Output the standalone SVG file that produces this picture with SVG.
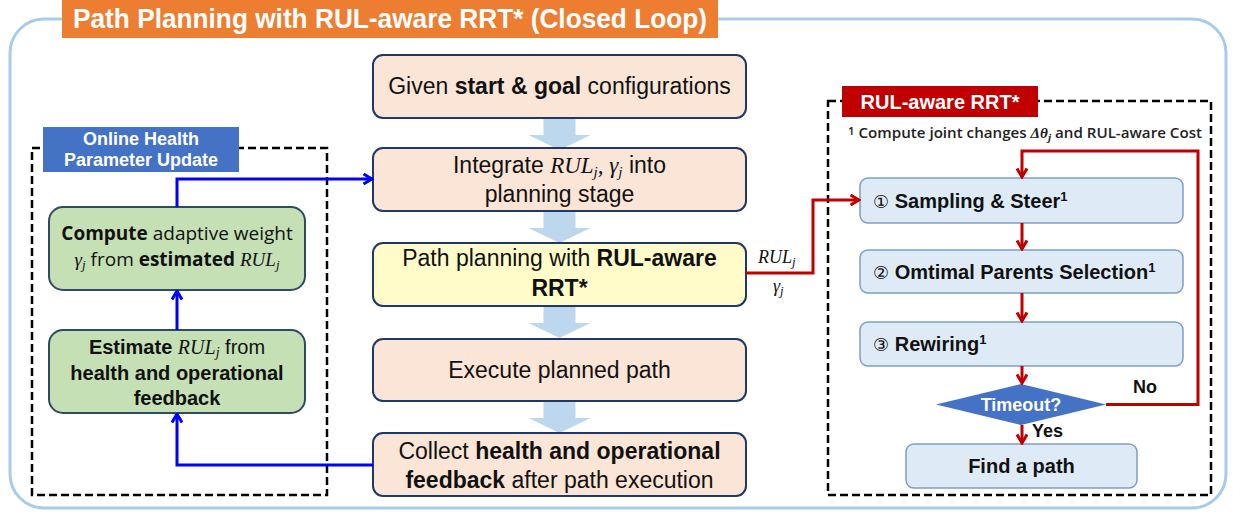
<svg xmlns="http://www.w3.org/2000/svg" width="1233" height="512" viewBox="0 0 1233 512">
<style>
.sans{font-family:"Liberation Sans",Arial,sans-serif}
.hum{font-family:"Open Sans","Noto Sans",sans-serif}
.math{font-family:"Liberation Serif","DejaVu Serif",serif;font-style:italic}
.b{font-weight:bold}
.w{fill:#fff}
.cbox{fill:#fbe5d6;stroke:#203864;stroke-width:2}
.ybox{fill:#fffcc9;stroke:#203864;stroke-width:2}
.gbox{fill:#c5e0b4;stroke:#2f4a63;stroke-width:2}
.rbox{fill:#deebf7;stroke:#7f9dc8;stroke-width:1.5}
.dash{fill:none;stroke:#000;stroke-width:2.5;stroke-dasharray:8 4}
.blue{fill:none;stroke:#0000ff;stroke-width:3;marker-end:url(#ab)}
.red{fill:none;stroke:#c00000;stroke-width:3;marker-end:url(#ar)}
.blk{fill:#bdd7ee}
</style>
<defs>
<marker id="ab" viewBox="0 0 12 12" refX="10.5" refY="6" markerWidth="12" markerHeight="12" markerUnits="userSpaceOnUse" orient="auto"><path d="M2,1 L10.5,6 L2,11" fill="none" stroke="#0000ff" stroke-width="3"/></marker>
<marker id="ar" viewBox="0 0 12 12" refX="10.5" refY="6" markerWidth="12" markerHeight="12" markerUnits="userSpaceOnUse" orient="auto"><path d="M2,1 L10.5,6 L2,11" fill="none" stroke="#c00000" stroke-width="3"/></marker>
<path id="blockarrow" d="M-16,0 H16 V17 H31 L0,32 L-31,17 H-16 Z"/>
</defs>

<!-- outer container -->
<rect x="10" y="19" width="1216" height="489" rx="34" fill="#fff" stroke="#a9cbea" stroke-width="3"/>
<g id="title">
<rect x="62" y="0" width="656" height="38" fill="#ed7d31"/>
<text x="390" y="28" text-anchor="middle" class="sans b w" font-size="27" textLength="634" lengthAdjust="spacingAndGlyphs">Path Planning with RUL-aware RRT* (Closed Loop)</text>
</g>

<!-- group frames -->
<g id="online-health-group">
<rect x="32" y="148" width="295" height="347" class="dash"/>
<rect x="43" y="127" width="196" height="45" fill="#4472c4"/>
<text x="141" y="145" text-anchor="middle" class="sans b w" font-size="18">Online Health</text>
<text x="141" y="166" text-anchor="middle" class="sans b w" font-size="18">Parameter Update</text>
</g>
<g id="rrt-group">
<rect x="828" y="101" width="383" height="394" class="dash"/>
<rect x="842" y="86" width="196" height="31" fill="#c00000"/>
<text x="940" y="109" text-anchor="middle" class="sans b w" font-size="20">RUL-aware RRT*</text>
<text x="848" y="138" class="hum" font-size="14.5" font-weight="600" fill="#222" textLength="354" lengthAdjust="spacingAndGlyphs"><tspan font-size="11" baseline-shift="3">1</tspan> Compute joint changes <tspan class="math" font-weight="bold">Δθ</tspan><tspan class="math" font-size="11" baseline-shift="-3">j</tspan> and RUL-aware Cost</text>
</g>

<!-- block arrows -->
<g id="block-arrows" class="blk">
<use href="#blockarrow" x="559.5" y="118"/>
<use href="#blockarrow" x="559.5" y="211"/>
<use href="#blockarrow" x="559.5" y="306"/>
<use href="#blockarrow" x="559.5" y="401"/>
</g>

<!-- center nodes -->
<g id="n-given">
<rect x="373" y="55" width="373" height="63" rx="10" class="cbox"/>
<text x="559.5" y="94" text-anchor="middle" class="sans" font-size="23" fill="#111">Given <tspan class="b">start &amp; goal</tspan> configurations</text>
</g>
<g id="n-integrate">
<rect x="373" y="148" width="373" height="63" rx="10" class="cbox"/>
<text x="559.5" y="173" text-anchor="middle" class="sans" font-size="23" fill="#111">Integrate <tspan class="math">RUL</tspan><tspan class="math" font-size="15" baseline-shift="-4">j</tspan><tspan class="math">, γ</tspan><tspan class="math" font-size="15" baseline-shift="-4">j</tspan> into</text>
<text x="559.5" y="202" text-anchor="middle" class="sans" font-size="23" fill="#111">planning stage</text>
</g>
<g id="n-planning">
<rect x="373" y="243" width="373" height="63" rx="10" class="ybox"/>
<text x="559.5" y="266" text-anchor="middle" class="sans" font-size="23" fill="#111">Path planning with <tspan class="b">RUL-aware</tspan></text>
<text x="559.5" y="296" text-anchor="middle" class="sans b" font-size="23" fill="#111">RRT*</text>
</g>
<g id="n-execute">
<rect x="373" y="339" width="373" height="62" rx="10" class="cbox"/>
<text x="559.5" y="378" text-anchor="middle" class="sans" font-size="23" fill="#111">Execute planned path</text>
</g>
<g id="n-collect">
<rect x="373" y="433" width="373" height="63" rx="10" class="cbox"/>
<text x="559.5" y="459" text-anchor="middle" class="sans" font-size="23" fill="#111">Collect <tspan class="b">health and operational</tspan></text>
<text x="559.5" y="488" text-anchor="middle" class="sans" font-size="23" fill="#111"><tspan class="b">feedback</tspan> after path execution</text>
</g>

<!-- left nodes -->
<g id="n-compute">
<rect x="49" y="207" width="256" height="83" rx="14" class="gbox"/>
<text x="177" y="240" text-anchor="middle" class="hum" font-size="19" fill="#111"><tspan class="b">Compute</tspan> adaptive weight</text>
<text x="177" y="266" text-anchor="middle" class="hum" font-size="19" fill="#111"><tspan class="math">γ</tspan><tspan class="math" font-size="13" baseline-shift="-3">j</tspan> from <tspan class="b">estimated</tspan> <tspan class="math">RUL</tspan><tspan class="math" font-size="13" baseline-shift="-3">j</tspan></text>
</g>
<g id="n-estimate">
<rect x="49" y="330" width="256" height="83" rx="14" class="gbox"/>
<text x="177" y="354" text-anchor="middle" class="sans" font-size="20" fill="#111"><tspan class="b">Estimate</tspan> <tspan class="math">RUL</tspan><tspan class="math" font-size="14" baseline-shift="-3">j</tspan> from</text>
<text x="177" y="380" text-anchor="middle" class="sans b" font-size="20" fill="#111">health and operational</text>
<text x="177" y="405" text-anchor="middle" class="sans b" font-size="20" fill="#111">feedback</text>
</g>

<!-- right nodes -->
<g id="n-sampling">
<rect x="860" y="178" width="323" height="45" rx="8" class="rbox"/>
<text x="873" y="208" class="sans b" font-size="20" fill="#111"><tspan font-family="DejaVu Sans" font-weight="normal" font-size="18">①</tspan> Sampling &amp; Steer<tspan font-size="13" baseline-shift="super">1</tspan></text>
</g>
<g id="n-parents">
<rect x="860" y="250" width="323" height="43" rx="8" class="rbox"/>
<text x="873" y="279" class="sans b" font-size="20" fill="#111"><tspan font-family="DejaVu Sans" font-weight="normal" font-size="18">②</tspan> Omtimal Parents Selection<tspan font-size="13" baseline-shift="super">1</tspan></text>
</g>
<g id="n-rewiring">
<rect x="860" y="322" width="323" height="44" rx="8" class="rbox"/>
<text x="873" y="351" class="sans b" font-size="20" fill="#111"><tspan font-family="DejaVu Sans" font-weight="normal" font-size="18">③</tspan> Rewiring<tspan font-size="13" baseline-shift="super">1</tspan></text>
</g>
<g id="n-timeout">
<polygon points="936,404.5 1021,384 1106,404.5 1021,425" fill="#4472c4"/>
<text x="1021" y="411" text-anchor="middle" class="sans b w" font-size="18">Timeout?</text>
</g>
<g id="n-find">
<rect x="906" y="444" width="231" height="44" rx="8" class="rbox"/>
<text x="1021.5" y="473" text-anchor="middle" class="sans b" font-size="20" fill="#111">Find a path</text>
</g>

<!-- connectors -->
<g id="connectors">
<path class="blue" d="M177,207 V179 H372"/>
<path class="blue" d="M177,330 V291"/>
<path class="blue" d="M373,465 H177 V414"/>
<path class="red" d="M746,273 H813 V200 H859"/>
<path class="red" d="M1022,223 V249"/>
<path class="red" d="M1022,293 V321"/>
<path class="red" d="M1022,366 V383"/>
<path class="red" d="M1022,425 V443"/>
<path class="red" d="M1106,404.5 H1198 V151 H1022 V177"/>
<text x="758" y="263" class="math" font-size="18" fill="#111">RUL<tspan font-size="13" baseline-shift="-3">j</tspan></text>
<text x="773" y="292" class="math" font-size="18" fill="#111">γ<tspan font-size="13" baseline-shift="-3">j</tspan></text>
<text x="1133" y="393" class="sans b" font-size="18" fill="#111">No</text>
<text x="1032" y="437" class="sans b" font-size="18" fill="#111">Yes</text>
</g>
</svg>
